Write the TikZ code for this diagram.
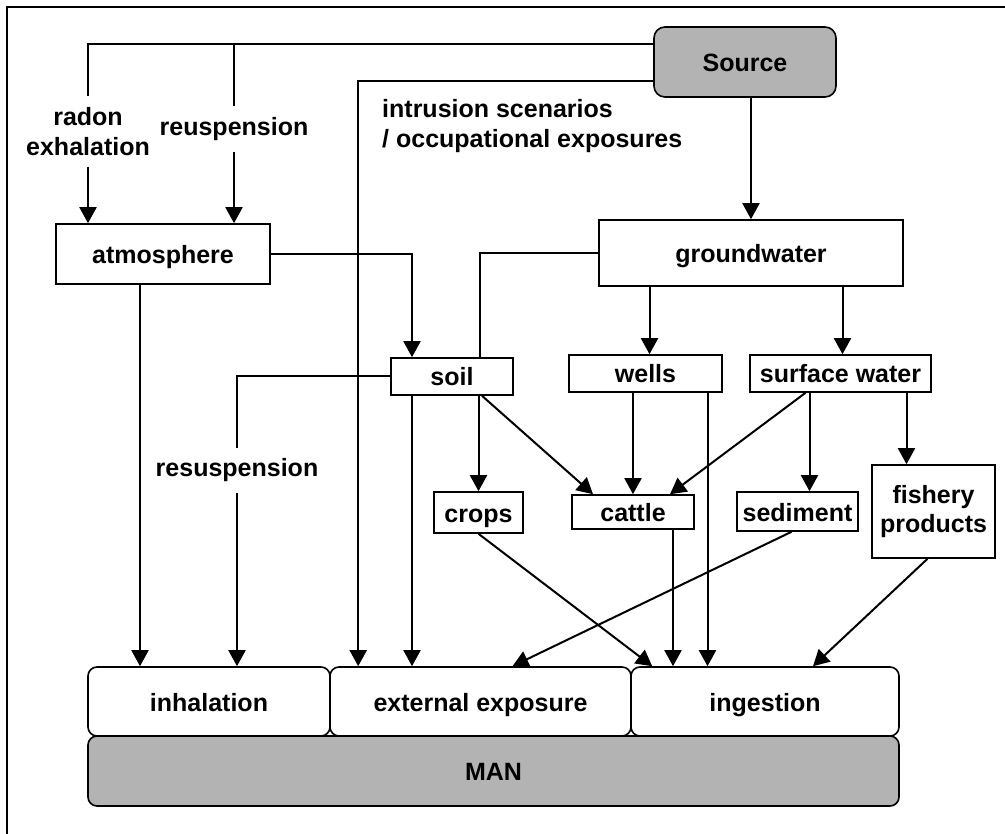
\documentclass[tikz,border=0pt]{standalone}
\usepackage{fontspec}
\setmainfont{Liberation Sans}
\usepackage{tikz}
\usetikzlibrary{arrows.meta}

\definecolor{mangray}{RGB}{179,179,179}

\begin{document}
\begin{tikzpicture}[
    x=1pt, y=-1pt,
    every node/.style={align=center, font=\fontsize{25}{29.5}\selectfont\bfseries},
    boxline/.style={rectangle, draw, line width=1.6pt, fill=white, inner sep=0pt},
    compbox/.style={boxline, text height=23pt, text depth=4pt},
    endbox/.style={compbox, rounded corners=9pt},
    pathlbl/.style={inner xsep=2pt, inner ysep=11pt},
    flow/.style={-{Triangle[length=16pt, width=17pt]}, line width=2pt},
    plain/.style={line width=2pt}
]
    \useasboundingbox (0,0) rectangle (1005,834);
    \draw[line width=2pt] (7,7) rectangle (1030,860);

    % source and first compartments
    \node[endbox, fill=mangray, rounded corners=11pt,
          minimum width=182pt, minimum height=70pt] (src) at (745,62) {Source};
    \node[compbox, minimum width=214pt, minimum height=60pt] (atmo) at (163,254) {atmosphere};
    \node[compbox, minimum width=304pt, minimum height=66pt] (gw) at (751,253) {groundwater};
    \node[compbox, minimum width=122pt, minimum height=37pt] (soil) at (452,376.5) {soil};
    \node[compbox, minimum width=153pt, minimum height=37pt] (wells) at (645.5,373.5) {wells};
    \node[compbox, minimum width=181pt, minimum height=37pt] (surf) at (840.5,373.5) {surface water};
    \node[compbox, minimum width=89pt, minimum height=41pt] (crops) at (478.5,512.5) {crops};
    \node[compbox, minimum width=122pt, minimum height=34pt] (cattle) at (633,512) {cattle};
    \node[compbox, minimum width=121pt, minimum height=39pt] (sed) at (797.5,511.5) {sediment};
    \node[boxline, minimum width=123pt, minimum height=93pt] (fish) at (933.5,511.5) {fishery\\ products};

    % exposure pathways and man
    \node[endbox, minimum width=242pt, minimum height=69pt] (inh) at (209,701.5) {inhalation};
    \node[endbox, minimum width=301pt, minimum height=69pt] (ext) at (480.5,701.5) {external exposure};
    \node[endbox, minimum width=268pt, minimum height=69pt] (ing) at (765,701.5) {ingestion};
    \node[endbox, fill=mangray, minimum width=811pt, minimum height=70pt] (man) at (493.5,771) {MAN};

    % labels on the paths
    \node[pathlbl] (radon) at (88,131.5) {radon\\ exhalation};
    \node[pathlbl] (reusp) at (234,129) {reuspension};
    \node[pathlbl] (resusp) at (237,470.5) {resuspension};
    \node[inner sep=0pt, align=left, anchor=west] (intr) at (382,126)
         {intrusion scenarios\\ / occupational exposures};

    \coordinate (top) at ([yshift=18pt]src.west);

    \draw[plain] (top) -| (radon.north);
    \draw[flow]  (radon.south) -- (radon.south |- atmo.north);
    \draw[plain] (reusp.north) -- (reusp.north |- top);
    \draw[flow]  (reusp.south) -- (reusp.south |- atmo.north);
    \draw[flow]  ([yshift=-19pt]src.west) -| ([xshift=29pt]ext.north west);
    \draw[flow]  (src.south -| gw.north) -- (gw.north);

    \draw[flow]  (atmo.east) -| ([xshift=-40pt]soil.north);
    \draw[flow]  ([xshift=-23pt]atmo.south) -- ([xshift=-23pt]atmo.south |- inh.north);
    \draw[plain] (gw.west) -| ([xshift=28pt]soil.north);
    \draw[flow]  ([xshift=4pt]wells.north |- gw.south) -- ([xshift=4pt]wells.north);
    \draw[flow]  ([xshift=2pt]surf.north |- gw.south) -- ([xshift=2pt]surf.north);

    \draw[plain] (soil.west) -| (resusp.north);
    \draw[flow]  (resusp.south) -- (resusp.south |- inh.north);
    \draw[flow]  ([xshift=-40pt]soil.south) -- ([xshift=-40pt]soil.south |- ext.north);
    \draw[flow]  (crops.north |- soil.south) -- (crops.north);
    \draw[flow]  ([xshift=30pt]soil.south) -- ([xshift=-40pt]cattle.north);

    \draw[flow]  (cattle.north |- wells.south) -- (cattle.north);
    \draw[flow]  ([xshift=62pt]wells.south) -- ([xshift=62pt]wells.south |- ing.north);
    \draw[flow]  ([xshift=-35pt]surf.south) -- ([xshift=37pt]cattle.north);
    \draw[flow]  ([xshift=12pt]sed.north |- surf.south) -- ([xshift=12pt]sed.north);
    \draw[flow]  ([xshift=-27pt]fish.north |- surf.south) -- ([xshift=-27pt]fish.north);

    \draw[flow]  (crops.south) -- ([xshift=22pt]ing.north west);
    \draw[flow]  ([xshift=40pt]cattle.south) -- ([xshift=40pt]cattle.south |- ing.north);
    \draw[flow]  ([xshift=-6pt]sed.south) -- ([xshift=32pt]ext.north);
    \draw[flow]  ([xshift=-6pt]fish.south) -- ([xshift=48pt]ing.north);
\end{tikzpicture}
\end{document}
